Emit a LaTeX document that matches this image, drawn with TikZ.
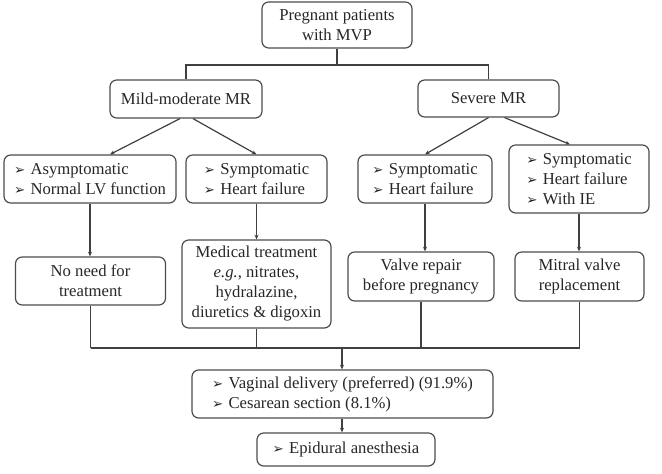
\documentclass[tikz,border=0pt]{standalone}
\usepackage{fontspec}
\setmainfont{Liberation Serif}
\newfontfamily\symfont{DejaVu Sans}
\usetikzlibrary{arrows.meta}
\newcommand{\bul}{{\symfont\fontsize{10}{10}\selectfont ➢}\hspace{4pt}}
\begin{document}
\begin{tikzpicture}[x=0.75pt,y=-0.75pt,
  box/.style={draw=black!70, line width=0.9pt, rounded corners=5pt, inner sep=0pt,
    align=center, font=\fontsize{12.5}{15}\selectfont, text=black!85},
  lbox/.style={box, align=left},
  con/.style={draw=black!75, line width=0.9pt},
  arr/.style={con, -{Stealth[length=3.5pt,width=3pt]}}]
\useasboundingbox (0,0) rectangle (662,474);

\node[box, minimum width=112.5pt, minimum height=34.5pt] (top) at (337,25) {Pregnant patients\\with MVP};
\node[box, minimum width=114pt, minimum height=28.5pt] (mild) at (186,99) {Mild-moderate MR};
\node[box, minimum width=105.75pt, minimum height=27.75pt] (severe) at (488.5,98.5) {Severe MR};

\node[lbox, minimum width=129pt, minimum height=36pt] (A) at (90,179) {\bul Asymptomatic\\\bul Normal LV function};
\node[lbox, minimum width=105.75pt, minimum height=36pt] (B) at (256.5,179) {\bul Symptomatic\\\bul Heart failure};
\node[lbox, minimum width=100.5pt, minimum height=36pt] (C) at (425,179) {\bul Symptomatic\\\bul Heart failure};
\node[lbox, minimum width=105pt, minimum height=51pt] (D) at (579,179) {\bul Symptomatic\\\bul Heart failure\\\bul With IE};

\node[box, minimum width=112.5pt, minimum height=36pt] (E) at (90.5,281) {No need for\\treatment};
\node[box, minimum width=111.75pt, minimum height=66pt] (F) at (256.5,284) {Medical treatment\\\textit{e.g.}, nitrates,\\hydralazine,\\diuretics \& digoxin};
\node[box, minimum width=109.5pt, minimum height=36.75pt] (G) at (421,276.5) {Valve repair\\before pregnancy};
\node[box, minimum width=96.75pt, minimum height=36.75pt] (H) at (579.5,276.5) {Mitral valve\\replacement};

\node[lbox, minimum width=225.75pt, minimum height=36pt] (I) at (342.5,394) {\bul Vaginal delivery (preferred) (91.9\%)\\\bul Cesarean section (8.1\%)};
\node[lbox, minimum width=133.5pt, minimum height=24.75pt] (J) at (346,449.5) {\bul Epidural anesthesia};

% top split
\coordinate (j1) at (337,65);
\draw[con] (top.south) -- (j1);
\draw[con] (mild.north) |- (j1) -| (severe.north);

% second level
\draw[arr] ([xshift=-4.5pt]mild.south) -- ([xshift=15pt]A.north);
\draw[arr] ([xshift=5.25pt]mild.south) -- (B.north);
\draw[arr] (severe.south) -- (C.north);
\draw[arr] ([xshift=12pt]severe.south) -- ([xshift=-6.75pt]D.north);

% down to treatments
\draw[arr] (A.south) -- (A.south |- E.north);
\draw[arr] (B.south) -- (B.south |- F.north);
\draw[arr] (C.south) -- (C.south |- G.north);
\draw[arr] (D.south) -- (D.south |- H.north);

% merge
\coordinate (m) at (342,348);
\draw[con] (E.south) -- (E.south |- m);
\draw[con] (F.south) -- (F.south |- m);
\draw[con] (G.south) -- (G.south |- m);
\draw[con] (H.south) -- (H.south |- m);
\draw[con] (E.south |- m) -- (H.south |- m);
\draw[arr] (m) -- (m |- I.north);
\draw[arr] (I.south -| m) -- (m |- J.north);
\end{tikzpicture}
\end{document}
